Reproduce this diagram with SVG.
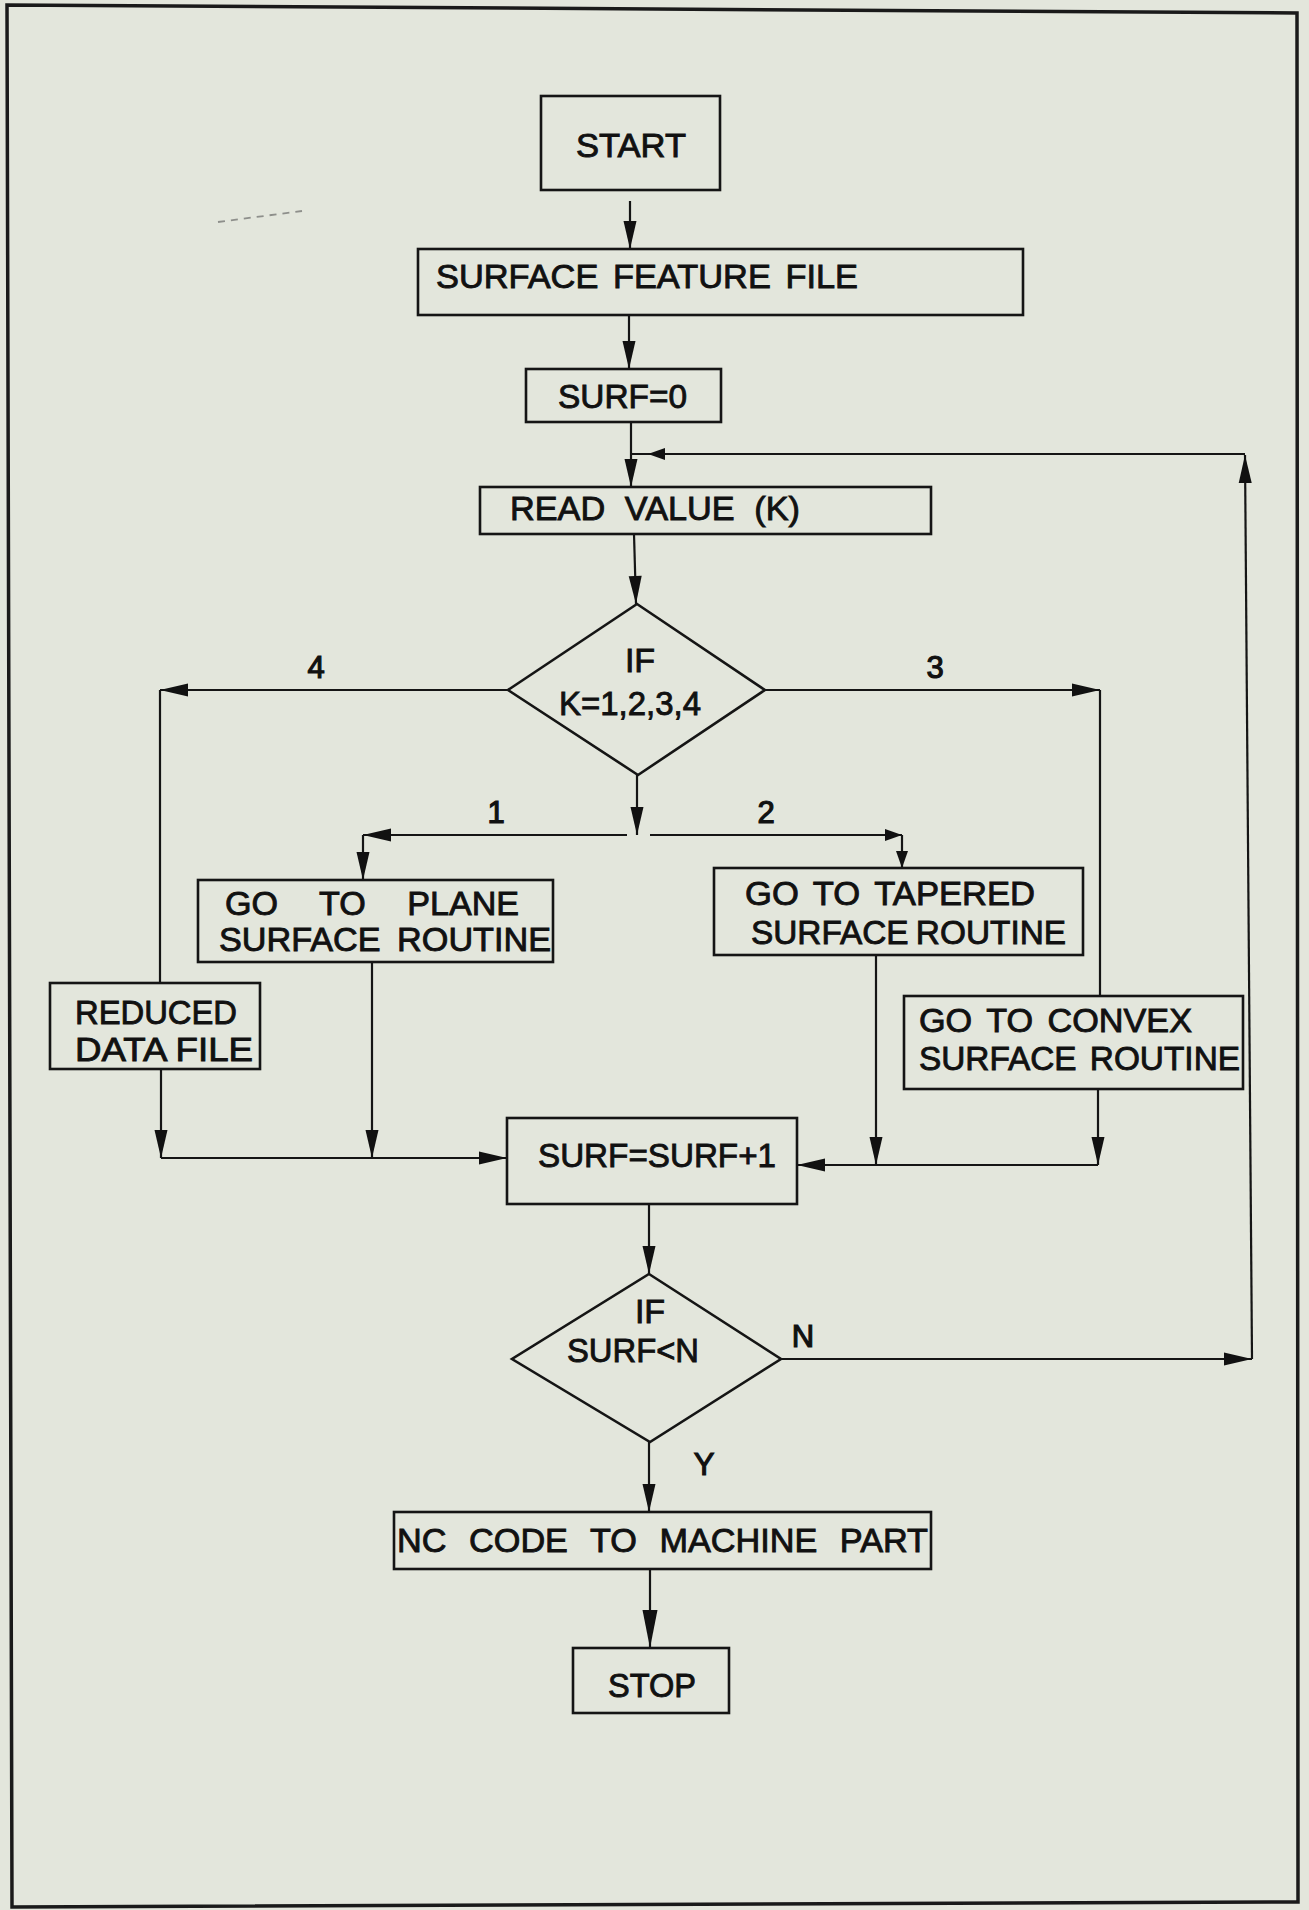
<svg xmlns="http://www.w3.org/2000/svg" width="1309" height="1910" viewBox="0 0 1309 1910">
<style>
  .bg{fill:#e3e6dc}
  .frame{fill:none;stroke:#1a1a1a;stroke-width:3.5}
  .box{fill:none;stroke:#151515;stroke-width:2.6}
  .ln{fill:none;stroke:#151515;stroke-width:2.2}
  .t{font-family:"Liberation Sans",Arial,Helvetica,sans-serif;font-size:34px;fill:#111;stroke:#111;stroke-width:0.9}
  .c{text-anchor:middle}
  .lab{font-family:"Liberation Sans",Arial,Helvetica,sans-serif;font-size:31px;fill:#111;stroke:#111;stroke-width:1.2;text-anchor:middle}
</style>
<defs>
  <marker id="ah" viewBox="-30 -9 32 18" refX="0" refY="0" markerWidth="32" markerHeight="18" markerUnits="userSpaceOnUse" orient="auto">
    <path d="M0,0 L-28,-6.5 L-28,6.5 Z" fill="#111"/>
  </marker>
  <marker id="ahs" viewBox="-20 -8 22 16" refX="0" refY="0" markerWidth="22" markerHeight="16" markerUnits="userSpaceOnUse" orient="auto">
    <path d="M0,0 L-17,-6 L-17,6 Z" fill="#111"/>
  </marker>
  <marker id="ahb" viewBox="-42 -10 44 20" refX="0" refY="0" markerWidth="44" markerHeight="20" markerUnits="userSpaceOnUse" orient="auto">
    <path d="M0,0 L-38,-7.5 L-38,7.5 Z" fill="#111"/>
  </marker>
</defs>
<rect class="bg" x="0" y="0" width="1309" height="1910"/>
<polygon class="frame" points="7,5 1297,13 1298,1902 12,1907"/>
<path d="M218,222 L302,211" fill="none" stroke="#555" stroke-width="1.8" stroke-dasharray="7,6" opacity="0.6"/>

<g id="connectors">
  <path class="ln" d="M630,201 L630,249" marker-end="url(#ah)"/>
  <path class="ln" d="M629,315 L629,369" marker-end="url(#ah)"/>
  <path class="ln" d="M631,422 L631,487" marker-end="url(#ah)"/>
  <path class="ln" d="M1245,454 L631,454"/>
  <path class="ln" d="M1245,454 L648,454" marker-end="url(#ahs)"/>
  <path class="ln" d="M634,534 L636,604" marker-end="url(#ah)"/>
  <path class="ln" d="M508,690 L160,690" marker-end="url(#ah)"/>
  <path class="ln" d="M160,690 L160,983"/>
  <path class="ln" d="M765,690 L1100,690" marker-end="url(#ah)"/>
  <path class="ln" d="M1100,690 L1100,996"/>
  <path class="ln" d="M637,775 L637,835" marker-end="url(#ah)"/>
  <path class="ln" d="M627,835 L363,835" marker-end="url(#ah)"/>
  <path class="ln" d="M363,835 L363,880" marker-end="url(#ah)"/>
  <path class="ln" d="M650,835 L902,835" marker-end="url(#ahs)"/>
  <path class="ln" d="M902,835 L902,868" marker-end="url(#ahs)"/>
  <path class="ln" d="M161,1069 L161,1158" marker-end="url(#ah)"/>
  <path class="ln" d="M161,1158 L507,1158" marker-end="url(#ah)"/>
  <path class="ln" d="M372,962 L372,1158" marker-end="url(#ah)"/>
  <path class="ln" d="M876,955 L876,1165" marker-end="url(#ah)"/>
  <path class="ln" d="M1098,1089 L1098,1165" marker-end="url(#ah)"/>
  <path class="ln" d="M1098,1165 L797,1165" marker-end="url(#ah)"/>
  <path class="ln" d="M649,1204 L649,1274" marker-end="url(#ah)"/>
  <path class="ln" d="M781,1359 L1252,1359" marker-end="url(#ah)"/>
  <path class="ln" d="M1252,1359 L1245,455" marker-end="url(#ah)"/>
  <path class="ln" d="M649,1442 L649,1512" marker-end="url(#ah)"/>
  <path class="ln" d="M650,1569 L650,1648" marker-end="url(#ahb)"/>
  <text class="lab" x="316" y="678">4</text>
  <text class="lab" x="935" y="678">3</text>
  <text class="lab" x="496" y="823">1</text>
  <text class="lab" x="766" y="823">2</text>
  <text class="lab" x="803" y="1347">N</text>
  <text class="lab" x="704" y="1475">Y</text>
</g>

<g id="start">
  <rect class="box" x="541" y="96" width="179" height="94"/>
  <text class="t" x="576" y="157" textLength="110" lengthAdjust="spacingAndGlyphs">START</text>
</g>
<g id="surface-feature-file">
  <rect class="box" x="418" y="249" width="605" height="66"/>
  <text class="t" x="436" y="288" word-spacing="5" textLength="422" lengthAdjust="spacingAndGlyphs">SURFACE FEATURE FILE</text>
</g>
<g id="surf-0">
  <rect class="box" x="526" y="369" width="195" height="53"/>
  <text class="t" x="558" y="408" textLength="129" lengthAdjust="spacingAndGlyphs">SURF=0</text>
</g>
<g id="read-value">
  <rect class="box" x="480" y="487" width="451" height="47"/>
  <text class="t" x="510" y="520" word-spacing="10" textLength="290" lengthAdjust="spacingAndGlyphs">READ VALUE (K)</text>
</g>
<g id="if-k">
  <polygon class="box" points="637,604 765,690 638,775 508,690"/>
  <text class="t c" x="640" y="672">IF</text>
  <text class="t" x="559" y="715" textLength="142" lengthAdjust="spacingAndGlyphs">K=1,2,3,4</text>
</g>
<g id="plane-surface">
  <rect class="box" x="198" y="880" width="355" height="82"/>
  <text class="t" x="225" y="915" word-spacing="32" textLength="294" lengthAdjust="spacingAndGlyphs">GO TO PLANE</text>
  <text class="t" x="219" y="951" word-spacing="7" textLength="332" lengthAdjust="spacingAndGlyphs">SURFACE ROUTINE</text>
</g>
<g id="tapered-surface">
  <rect class="box" x="714" y="868" width="369" height="87"/>
  <text class="t" x="745" y="905" word-spacing="5" textLength="290" lengthAdjust="spacingAndGlyphs">GO TO TAPERED</text>
  <text class="t" x="751" y="944" word-spacing="-2" textLength="315" lengthAdjust="spacingAndGlyphs">SURFACE ROUTINE</text>
</g>
<g id="reduced-data-file">
  <rect class="box" x="50" y="983" width="210" height="86"/>
  <text class="t" x="75" y="1024" textLength="162" lengthAdjust="spacingAndGlyphs">REDUCED</text>
  <text class="t" x="75" y="1061" textLength="178" lengthAdjust="spacingAndGlyphs">DATA FILE</text>
</g>
<g id="convex-surface">
  <rect class="box" x="904" y="996" width="339" height="93"/>
  <text class="t" x="919" y="1032" word-spacing="5" textLength="273" lengthAdjust="spacingAndGlyphs">GO TO CONVEX</text>
  <text class="t" x="919" y="1070" word-spacing="4" textLength="321" lengthAdjust="spacingAndGlyphs">SURFACE ROUTINE</text>
</g>
<g id="surf-increment">
  <rect class="box" x="507" y="1118" width="290" height="86"/>
  <text class="t" x="538" y="1167" textLength="238" lengthAdjust="spacingAndGlyphs">SURF=SURF+1</text>
</g>
<g id="if-surf-n">
  <polygon class="box" points="649,1274 781,1359 650,1442 512,1359"/>
  <text class="t c" x="650" y="1323">IF</text>
  <text class="t" x="567" y="1362" textLength="132" lengthAdjust="spacingAndGlyphs">SURF&lt;N</text>
</g>
<g id="nc-code">
  <rect class="box" x="394" y="1512" width="537" height="57"/>
  <text class="t" x="397" y="1552" word-spacing="13" textLength="531" lengthAdjust="spacingAndGlyphs">NC CODE TO MACHINE PART</text>
</g>
<g id="stop">
  <rect class="box" x="573" y="1648" width="156" height="65"/>
  <text class="t" x="608" y="1697" textLength="88" lengthAdjust="spacingAndGlyphs">STOP</text>
</g>
</svg>
